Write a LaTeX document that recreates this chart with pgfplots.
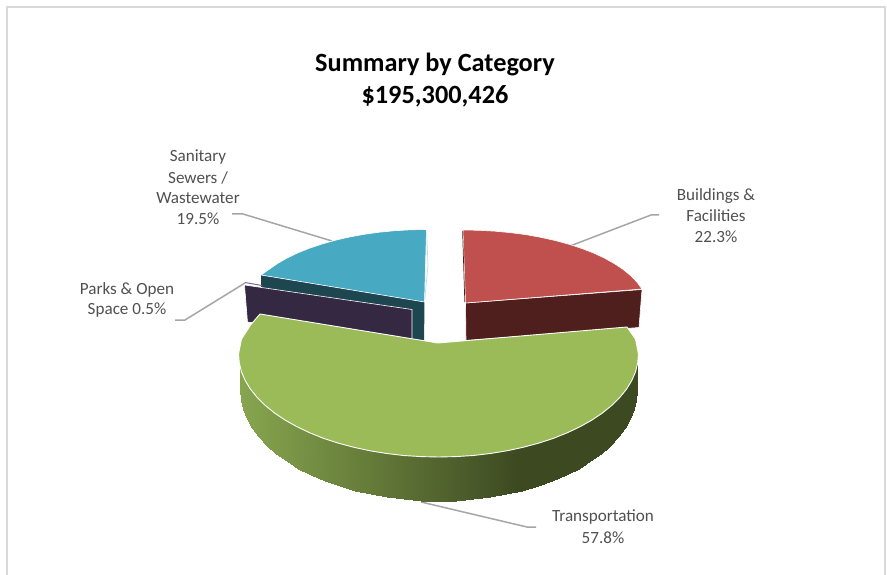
\documentclass[border=0pt]{standalone}
\usepackage{pgfplots}
\pgfplotsset{compat=1.18}
\usepackage{fontspec}
\setmainfont{Carlito}
\definecolor{framec}{HTML}{D9D9D9}
\definecolor{leader}{HTML}{A6A6A6}
\definecolor{labelc}{HTML}{505050}
\definecolor{redtop}{HTML}{C0504D}
\definecolor{redside}{HTML}{4F1F1E}
\definecolor{bluetop}{HTML}{48A9C3}
\definecolor{blueside}{HTML}{1E4650}
\definecolor{bluepale}{HTML}{B5DDE8}
\definecolor{purpleside}{HTML}{352842}
\definecolor{purpletop}{HTML}{8064A2}
\definecolor{greentop}{HTML}{9BBB59}
\pgfplotsset{colormap={greenside}{rgb(0cm)=(0.53,0.65,0.31); rgb(7cm)=(0.24,0.29,0.13); rgb(10cm)=(0.24,0.29,0.13)}}
\newcommand{\lbl}[3]{\node[text=labelc,font=\fontsize{17.1pt}{20pt}\selectfont,anchor=center] at (axis cs:#1,#2) {#3};}
\newcommand{\ttl}[3]{\node[text=black,font=\fontsize{26.3pt}{30pt}\selectfont\bfseries,anchor=center] at (axis cs:#1,#2) {#3};}
\begin{document}
\begin{tikzpicture}
\path[use as bounding box] (0,0) rectangle (887pt,575pt);
\begin{axis}[at={(0,0)},anchor=south west,scale only axis,width=887pt,height=575pt,
 xmin=0,xmax=887,ymin=0,ymax=575,y dir=reverse,hide axis,clip=false,point meta min=240,point meta max=637]
% frame
\addplot[framec,line width=1.6pt] coordinates {(7,575)(7,7)(885,7)(885,575)};
% leaders
\addplot[leader,line width=1.5pt] coordinates {(332,241)(243,214)(232,214)};
\addplot[leader,line width=1.5pt] coordinates {(570,246)(651,215)(659,215)};
\addplot[leader,line width=1.5pt] coordinates {(245,283)(185,320)(175,320)};
\addplot[leader,line width=1.5pt] coordinates {(421,502)(527,527)(536,527)};
% blue slice
\addplot[fill=blueside,draw=none] coordinates {(261,275)(424.5,302)(424,345)(261,318)} --cycle;
\addplot[bluepale,line width=0.7pt] coordinates {(426.5,229.5)(428,265)(424.5,302)};
\addplot[fill=bluetop,draw=white,line width=0.6pt] coordinates {(424.5,302)(426.5,229.5)(410.6,229.8)(394.9,230.7)(379.4,232.2)(364.3,234.3)(349.6,237)(335.5,240.2)(322.1,244)(309.5,248.2)(297.8,252.9)(287,258.1)(277.4,263.6)(268.9,269.5)(261,275)} --cycle;
% purple slice
\addplot[fill=purpleside,draw=white,line width=0.6pt] coordinates {(244.5,285)(412,309.5)(412,345)(247.5,322)} --cycle;
\addplot[purpletop,line width=1pt] coordinates {(245,282.5)(262,285.5)};
% red slice
\addplot[fill=redside,draw=white,line width=0.6pt] coordinates {(465.5,303)(642,289.5)(639,327.5)(466,340.5)} --cycle;
\addplot[fill=redtop,draw=white,line width=0.6pt] coordinates {(465.5,303)(463,230)(479.1,230.3)(495.1,231.2)(510.9,232.7)(526.3,234.7)(541.2,237.4)(555.5,240.6)(569.1,244.3)(581.9,248.5)(593.8,253.1)(604.7,258.2)(614.5,263.7)(623.2,269.5)(630.6,275.6)(636.9,282)(642,289)} --cycle;
\addplot[redside,line width=0.7pt] coordinates {(462.6,231)(464.8,302)};
% green side
\addplot[patch,patch type=rectangle,shader=interp,colormap name=greenside,point meta=x] coordinates {
(239.8,358)(240.5,390)(241.3,399.7)(241.3,365)
(241.3,372)(241.3,399.7)(243.5,409.3)(243.5,372)
(243.5,372)(243.5,409.3)(247.2,418.7)(247.2,372)
(247.2,372)(247.2,418.7)(252.4,428)(252.4,372)
(252.4,372)(252.4,428)(259.1,436.9)(259.1,372)
(259.1,372)(259.1,436.9)(267,445.5)(267,372)
(267,372)(267,445.5)(276.3,453.7)(276.3,372)
(276.3,372)(276.3,453.7)(286.8,461.4)(286.8,372)
(286.8,372)(286.8,461.4)(298.5,468.5)(298.5,372)
(298.5,372)(298.5,468.5)(311.2,475)(311.2,372)
(311.2,372)(311.2,475)(324.8,480.9)(324.8,372)
(324.8,372)(324.8,480.9)(339.5,486.1)(339.5,372)
(339.5,372)(339.5,486.1)(354.8,490.6)(354.8,372)
(354.8,372)(354.8,490.6)(370.8,494.3)(370.8,372)
(370.8,372)(370.8,494.3)(387.2,497.2)(387.2,372)
(387.2,372)(387.2,497.2)(404,499.3)(404,372)
(404,372)(404,499.3)(421.3,500.6)(421.3,372)
(421.3,372)(421.3,500.6)(438.5,501)(438.5,372)
(438.5,372)(438.5,501)(455.7,500.6)(455.7,372)
(455.7,372)(455.7,500.6)(473,499.3)(473,372)
(473,372)(473,499.3)(489.8,497.2)(489.8,372)
(489.8,372)(489.8,497.2)(506.2,494.3)(506.2,372)
(506.2,372)(506.2,494.3)(522.2,490.6)(522.2,372)
(522.2,372)(522.2,490.6)(537.5,486.1)(537.5,372)
(537.5,372)(537.5,486.1)(552.2,480.9)(552.2,372)
(552.2,372)(552.2,480.9)(565.8,475)(565.8,372)
(565.8,372)(565.8,475)(578.5,468.5)(578.5,372)
(578.5,372)(578.5,468.5)(590.2,461.4)(590.2,372)
(590.2,372)(590.2,461.4)(600.7,453.7)(600.7,372)
(600.7,372)(600.7,453.7)(610,445.5)(610,372)
(610,372)(610,445.5)(617.9,436.9)(617.9,372)
(617.9,372)(617.9,436.9)(624.6,428)(624.6,372)
(624.6,372)(624.6,428)(629.8,418.7)(629.8,372)
(629.8,372)(629.8,418.7)(633.5,409.3)(633.5,372)
(633.5,372)(633.5,409.3)(635.7,399.7)(635.7,372)
(635.7,365)(635.7,399.7)(636.5,390)(637.2,358)
};
% green top
\addplot[fill=greentop,draw=white,line width=0.9pt] coordinates {(438,343)(260,314)(250.5,325)(241.5,339.2)(238.5,354)(239.3,363)(241.5,371.9)(245.3,380.7)(250.5,389.2)(257.3,397.6)(265.3,405.5)(274.7,413.1)(285.3,420.2)(297.1,426.8)(310,432.9)(323.7,438.4)(338.5,443.2)(353.9,447.3)(370.1,450.8)(386.7,453.5)(403.7,455.5)(421.1,456.6)(438.5,457)(455.9,456.6)(473.3,455.5)(490.3,453.5)(506.9,450.8)(523.1,447.3)(538.5,443.2)(553.3,438.4)(567,432.9)(579.9,426.8)(591.7,420.2)(602.3,413.1)(611.7,405.5)(619.7,397.6)(626.5,389.2)(631.7,380.7)(635.5,371.9)(637.7,363)(638.5,354)(635.5,339.2)(627,327)} --cycle;
% text
\ttl{435}{64.5}{Summary by Category}
\ttl{435}{96.5}{\$195,300,426}
\lbl{198}{157}{Sanitary}
\lbl{198}{178}{Sewers /}
\lbl{198}{198}{Wastewater}
\lbl{198}{219}{19.5\%}
\lbl{716}{196}{Buildings \&}
\lbl{716}{216}{Facilities}
\lbl{716}{237}{22.3\%}
\lbl{127}{290}{Parks \& Open}
\lbl{127}{310}{Space 0.5\%}
\lbl{603}{517}{Transportation}
\lbl{603}{538}{57.8\%}
\end{axis}
\end{tikzpicture}
\end{document}
